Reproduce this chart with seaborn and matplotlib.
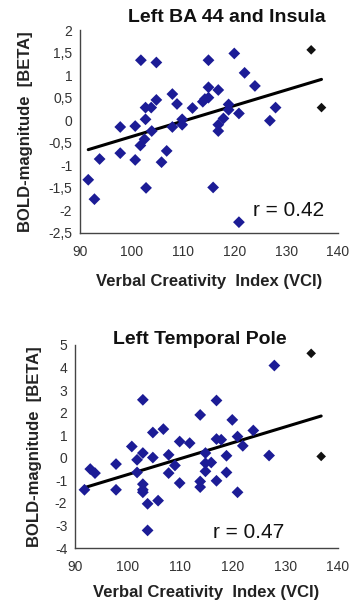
import matplotlib
matplotlib.use('Agg')
import matplotlib.pyplot as plt
import seaborn as sns
import numpy as np
import pandas as pd
from matplotlib.ticker import FixedLocator, FuncFormatter

# --- Left BA 44 and Insula ---
vci_ba44 = [91.6, 92.8, 93.8, 97.8, 97.8, 100.7, 100.7, 101.8, 101.7, 102.7,
            102.7, 102.5, 102.8, 103.8, 103.9, 104.8, 104.8, 106.8, 105.8, 107.9,
            107.9, 108.8, 109.8, 109.8, 111.8, 113.8, 114.2, 114.9, 114.9, 114.9,
            116.8, 116.8, 116.8, 115.8, 117.8, 118.8, 118.8, 119.9, 120.8, 120.8,
            121.9, 123.9, 126.8, 127.9]
beta_ba44 = [-1.32, -1.75, -0.86, -0.15, -0.73, -0.13, -0.88, 1.33, -0.56, 0.28,
             0.02, -0.42, -1.50, 0.28, -0.24, 1.28, 0.45, -0.68, -0.93, 0.58,
             -0.15, 0.36, 0.02, -0.10, 0.27, 0.41, 0.47, 0.50, 0.73, 1.33,
             0.67, -0.10, -0.24, -1.49, 0.04, 0.23, 0.35, 1.48, 0.15, -2.26,
             1.05, 0.76, -0.01, 0.28]
vci_ba44_out = [134.8, 136.8]
beta_ba44_out = [1.56, 0.28]

# --- Left Temporal Pole ---
vci_tp = [91.8, 92.9, 93.8, 97.8, 97.8, 100.8, 101.8, 101.8, 102.9, 102.9,
          102.9, 102.9, 102.9, 103.8, 103.8, 104.8, 104.8, 105.8, 106.8, 107.8,
          107.8, 109.0, 109.9, 109.9, 111.8, 113.8, 113.8, 113.8, 114.8, 114.8,
          114.8, 115.9, 116.9, 116.9, 116.9, 117.8, 118.8, 118.8, 119.9, 120.9,
          120.9, 121.9, 123.9, 126.9, 127.9]
beta_tp = [-1.42, -0.50, -0.68, -0.28, -1.42, 0.50, -0.09, -0.65, 2.57, 0.21,
           -1.17, -1.42, -1.53, -2.04, -3.22, 1.12, 0.01, -1.90, 1.27, 0.13,
           -0.68, -0.34, 0.72, -1.12, 0.65, 1.90, -1.05, -1.30, 0.21, -0.60,
           -0.24, -0.21, 2.54, 0.83, -1.02, 0.80, 0.09, -0.65, 1.68, 0.94,
           -1.53, 0.53, 1.21, 0.10, 4.09]
vci_tp_out = [134.9, 136.8]
beta_tp_out = [4.63, 0.06]

titles = ["Left BA 44 and Insula", "Left Temporal Pole"]
r_labels = ["r = 0.42", "r = 0.47"]
y_ticks = [[2, 1.5, 1, 0.5, 0, -0.5, -1, -1.5, -2, -2.5],
           [5, 4, 3, 2, 1, 0, -1, -2, -3, -4]]
x_ticks = [90, 100, 110, 120, 130, 140]

sns.set_style("white")
plt.rcParams['font.family'] = ['Liberation Sans', 'DejaVu Sans']

fig = plt.figure(figsize=(3.51, 6.08), dpi=100)
ax1 = fig.add_axes([80/351, 375/608, 258/351, 203/608])
ax2 = fig.add_axes([75/351, 60/608, 263/351, 203/608])

# (eixo, x, y, x fora, y fora, ylim, posição do r, y do título, x do título, labelpad y, labelpad x)
paneles = [
    (ax1, vci_ba44, beta_ba44, vci_ba44_out, beta_ba44_out, (-2.5, 2), (123.5, -2.13), 17, 0.57, 11, 11),
    (ax2, vci_tp, beta_tp, vci_tp_out, beta_tp_out, (-4, 5), (116.2, -3.55), 339, 0.475, 9, 8),
]

def coma(v, pos):
    s = f"{v:g}"
    return s.replace(".", ",")

for i, (ax, x, y, xo, yo, ylim, rpos, ty, tx, ylp, xlp) in enumerate(paneles):
    df = pd.DataFrame({"VCI": x + xo, "BETA": y + yo})
    sns.regplot(data=df, x="VCI", y="BETA", ax=ax, scatter=False, ci=None,
                truncate=True, line_kws={"color": "black", "lw": 2.2})
    sns.scatterplot(x=x, y=y, ax=ax, marker="D", color="#1c1c96", s=36,
                    edgecolor="none", zorder=3)
    sns.scatterplot(x=xo, y=yo, ax=ax, marker="D", color="#111111", s=24,
                    edgecolor="none", zorder=3)
    ax.set_xlim(90, 140)
    ax.set_ylim(*ylim)
    ax.xaxis.set_major_locator(FixedLocator(x_ticks))
    ax.yaxis.set_major_locator(FixedLocator(y_ticks[i]))
    ax.yaxis.set_major_formatter(FuncFormatter(coma))
    ax.tick_params(direction="inout", length=5, width=0.8, labelsize=10,
                   colors="#333333", labelcolor="#333333")
    ax.tick_params(axis="x", pad=6)
    ax.tick_params(axis="y", pad=3)
    for s in ["top", "right"]:
        ax.spines[s].set_visible(False)
    for s in ["left", "bottom"]:
        ax.spines[s].set_color("#444444")
        ax.spines[s].set_linewidth(1.0)
    ax.set_xlabel("Verbal Creativity  Index (VCI)", fontsize=12, fontweight="bold",
                  color="#222222", labelpad=xlp)
    ax.set_ylabel("BOLD-magnitude  [BETA]", fontsize=12, fontweight="bold",
                  color="#222222", labelpad=ylp)
    ax.text(*rpos, r_labels[i], fontsize=15, color="#111111")
    fig.text(ax.get_position().x0 + ax.get_position().width * tx, 1 - ty/608,
             titles[i], ha="center", va="center", fontsize=14, fontweight="bold",
             color="#111111")

fig.savefig("out.png", dpi=100)
